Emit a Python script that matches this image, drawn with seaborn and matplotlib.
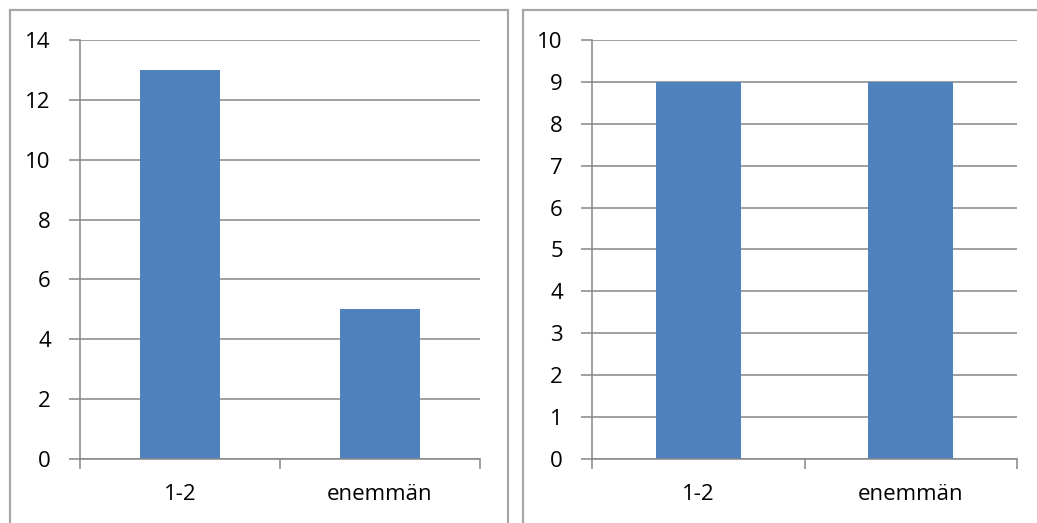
import matplotlib
matplotlib.use("Agg")
import matplotlib.pyplot as plt
from matplotlib.patches import Rectangle
import seaborn as sns
import pandas as pd

categories = ["1-2", "enemmän"]
left_values = [13, 5]
right_values = [9, 9]
left_ticks = [0, 2, 4, 6, 8, 10, 12, 14]
right_ticks = list(range(0, 11))

sns.set_theme(style="white")
plt.rcParams["font.family"] = ["Open Sans", "DejaVu Sans"]

BAR = "#4F81BD"
GRID = "#868686"
FRAME = "#A6A6A6"

W, H = 1037, 523
fig = plt.figure(figsize=(W / 100, H / 100), dpi=100)


def px_axes(x0, y0, x1, y1):
    return fig.add_axes([x0 / W, 1 - y1 / H, (x1 - x0) / W, (y1 - y0) / H])


# outer chart frames (the second one runs past the right edge)
for fx0, fx1 in [(10, 508), (523, 1060)]:
    fig.add_artist(Rectangle((fx0 / W, -0.05), (fx1 - fx0) / W, 1.05 - 10 / H,
                             transform=fig.transFigure, fill=False,
                             edgecolor=FRAME, linewidth=1.6))


def draw(ax, values, ticks):
    df = pd.DataFrame({"cat": categories, "val": values})
    sns.barplot(data=df, x="cat", y="val", ax=ax, color=BAR, width=0.4,
                saturation=1, edgecolor="none")
    ax.set_xlim(-0.5, 1.5)
    ax.set_ylim(ticks[0], ticks[-1])
    ax.set_yticks(ticks)
    ax.yaxis.grid(True, color=GRID, linewidth=1.1)
    ax.set_axisbelow(True)
    ax.set_xlabel("")
    ax.set_ylabel("")
    for s in ["top", "right"]:
        ax.spines[s].set_visible(False)
    for s in ["left", "bottom"]:
        ax.spines[s].set_color(GRID)
        ax.spines[s].set_linewidth(1.1)
    ax.tick_params(axis="y", direction="out", length=8, width=1.1, color=GRID,
                   labelsize=16, pad=13, left=True, labelcolor="black")
    ax.set_xticks([0, 1])
    ax.set_xticklabels(categories)
    ax.tick_params(axis="x", which="major", length=0, labelsize=16, pad=18,
                   labelcolor="black")
    ax.set_xticks([-0.5, 0.5, 1.5], minor=True)
    ax.tick_params(axis="x", which="minor", direction="out", length=7,
                   width=1.1, color=GRID, bottom=True)


ax1 = px_axes(80, 40, 480, 459)
draw(ax1, left_values, left_ticks)
ax2 = px_axes(592, 40, 1017, 459)
draw(ax2, right_values, right_ticks)

fig.savefig("out.png", dpi=100, facecolor="white")
